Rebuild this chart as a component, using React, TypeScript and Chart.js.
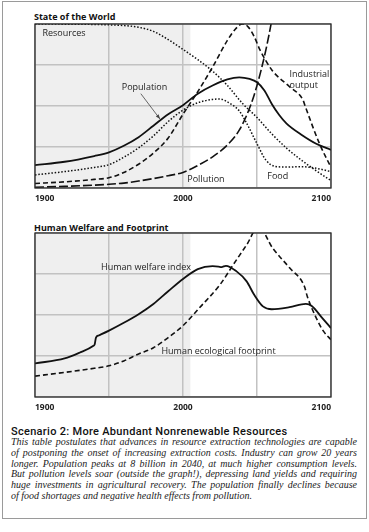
import React, { useEffect, useRef } from "react";
import { Chart, registerables } from "chart.js";
Chart.register(...registerables);

// ---------- Data ----------
const xTicks = [1900, 1950, 2000, 2050, 2100];
const tickLabels = ["1900", "", "2000", "", "2100"];

const resourcesYears = [1900, 1950, 1970, 1980, 1990, 2000, 2010, 2020, 2030, 2040, 2050, 2060, 2070, 2080, 2090, 2100];
const resourcesValues = [4.0, 3.98, 3.92, 3.82, 3.62, 3.38, 3.13, 2.85, 2.5, 2.07, 1.72, 1.32, 0.97, 0.68, 0.42, 0.18];

const populationYears = [1900, 1920, 1940, 1950, 1960, 1970, 1980, 1990, 2000, 2010, 2020, 2030, 2038, 2045, 2050, 2055, 2060, 2065, 2070, 2080, 2090, 2100];
const populationValues = [0.56, 0.64, 0.78, 0.87, 1.03, 1.24, 1.52, 1.8, 2.02, 2.3, 2.5, 2.65, 2.7, 2.66, 2.58, 2.38, 2.05, 1.78, 1.57, 1.3, 1.08, 0.93];

const foodYears = [1900, 1920, 1940, 1950, 1960, 1970, 1980, 1990, 2000, 2010, 2020, 2025, 2030, 2038, 2043, 2050, 2056, 2062, 2070, 2080, 2090, 2100];
const foodValues = [0.32, 0.4, 0.5, 0.57, 0.75, 0.98, 1.27, 1.62, 1.9, 2.08, 2.16, 2.17, 2.1, 1.88, 1.58, 1.08, 0.68, 0.53, 0.51, 0.52, 0.48, 0.4];

const industryYears = [1900, 1920, 1940, 1950, 1960, 1970, 1980, 1990, 2000, 2010, 2020, 2030, 2036, 2040, 2044, 2048, 2052, 2060, 2072, 2081, 2083, 2092, 2100];
const industryValues = [0.11, 0.15, 0.21, 0.25, 0.38, 0.58, 0.85, 1.22, 1.8, 2.35, 2.95, 3.6, 3.9, 4.0, 3.93, 3.7, 3.37, 2.88, 2.47, 2.15, 1.95, 1.1, 0.5];

const pollutionYears = [1900, 1920, 1940, 1950, 1960, 1970, 1980, 1990, 2000, 2010, 2020, 2030, 2038, 2045, 2050, 2056, 2060, 2065];
const pollutionValues = [0.02, 0.04, 0.07, 0.09, 0.12, 0.17, 0.23, 0.3, 0.38, 0.55, 0.76, 1.05, 1.41, 1.95, 2.5, 3.37, 4.1, 5.2];

const welfareYears = [1900, 1920, 1930, 1939.5, 1940.3, 1941.2, 1943, 1950, 1960, 1970, 1980, 1990, 2000, 2010, 2020, 2024, 2026, 2029, 2036, 2043, 2048, 2054, 2060, 2072, 2083, 2087, 2094, 2100];
const welfareValues = [0.82, 0.94, 1.08, 1.25, 1.28, 1.45, 1.5, 1.62, 1.81, 2.02, 2.27, 2.58, 2.88, 3.12, 3.19, 3.18, 3.17, 3.2, 3.07, 2.82, 2.5, 2.21, 2.14, 2.19, 2.27, 2.22, 1.93, 1.68];

const footprintYears = [1900, 1920, 1940, 1950, 1960, 1970, 1980, 1990, 2000, 2011, 2025, 2034, 2043, 2051, 2060.6, 2072, 2082, 2084, 2090, 2095, 2100];
const footprintValues = [0.51, 0.6, 0.7, 0.76, 0.88, 1.05, 1.2, 1.45, 1.74, 2.17, 2.74, 3.23, 3.71, 4.15, 3.63, 3.15, 2.7, 2.45, 1.93, 1.6, 1.4];

const historyEnd = 2005;

// annotation labels: [text, year, value, align]
const topLabels: [string, number, number, CanvasTextAlign][] = [
  ["Resources", 1905, 3.78, "left"],
  ["Population", 1974, 2.46, "center"],
  ["Industrial", 2072, 2.78, "left"],
  ["output", 2072, 2.51, "left"],
  ["Pollution", 2015.5, 0.2, "center"],
  ["Food", 2064, 0.29, "center"],
];
const topArrow = [1971.5, 2.3, 1984.5, 1.68];
const bottomLabels: [string, number, number, CanvasTextAlign][] = [
  ["Human welfare index", 1975, 3.17, "center"],
  ["Human ecological footprint", 2024, 1.1, "center"],
];

const captionTitle = "Scenario 2: More Abundant Nonrenewable Resources";
const captionLines = [
  "This table postulates that advances in resource extraction technologies are capable",
  "of postponing the onset of increasing extraction costs. Industry can grow 20 years",
  "longer. Population peaks at 8 billion in 2040, at much higher consumption levels.",
  "But pollution levels soar (outside the graph!), depressing land yields and requiring",
  "huge investments in agricultural recovery. The population finally declines because",
  "of food shortages and negative health effects from pollution.",
];

const SANS = "'Open Sans', 'DejaVu Sans', sans-serif";

function pts(xs: number[], ys: number[]) {
  return xs.map((x, i) => ({ x, y: ys[i] }));
}

function series(label: string, xs: number[], ys: number[], dash: number[], width: number) {
  return {
    label,
    data: pts(xs, ys),
    borderColor: "#111",
    borderWidth: width,
    borderDash: dash,
    pointRadius: 0,
    fill: false,
    cubicInterpolationMode: "monotone" as const,
  };
}

function makePlugin(labels: [string, number, number, CanvasTextAlign][], arrow: number[] | null) {
  return {
    id: "decor",
    beforeDraw(chart: any) {
      const { ctx, chartArea, scales } = chart;
      const x0 = scales.x.getPixelForValue(1900);
      const x1 = scales.x.getPixelForValue(historyEnd);
      ctx.save();
      ctx.fillStyle = "#efefef";
      ctx.fillRect(x0, chartArea.top, x1 - x0, chartArea.bottom - chartArea.top);
      ctx.restore();
    },
    afterDatasetsDraw(chart: any) {
      const { ctx, chartArea, scales } = chart;
      ctx.save();
      ctx.strokeStyle = "#2a2a2a";
      ctx.lineWidth = 1.3;
      ctx.strokeRect(chartArea.left, chartArea.top, chartArea.right - chartArea.left, chartArea.bottom - chartArea.top);
      ctx.fillStyle = "#222";
      ctx.font = "9px " + SANS;
      ctx.textBaseline = "middle";
      for (const [t, yr, v, al] of labels) {
        ctx.textAlign = al;
        ctx.fillText(t, scales.x.getPixelForValue(yr), scales.y.getPixelForValue(v));
      }
      if (arrow) {
        const ax = scales.x.getPixelForValue(arrow[0]);
        const ay = scales.y.getPixelForValue(arrow[1]);
        const bx = scales.x.getPixelForValue(arrow[2]);
        const by = scales.y.getPixelForValue(arrow[3]);
        ctx.strokeStyle = "#444";
        ctx.lineWidth = 0.8;
        ctx.beginPath();
        ctx.moveTo(ax, ay);
        ctx.lineTo(bx, by);
        ctx.stroke();
        const ang = Math.atan2(by - ay, bx - ax);
        const L = 5;
        ctx.fillStyle = "#444";
        ctx.beginPath();
        ctx.moveTo(bx, by);
        ctx.lineTo(bx - L * Math.cos(ang - 0.35), by - L * Math.sin(ang - 0.35));
        ctx.lineTo(bx - L * Math.cos(ang + 0.35), by - L * Math.sin(ang + 0.35));
        ctx.closePath();
        ctx.fill();
      }
      ctx.restore();
    },
  };
}

function baseOptions() {
  return {
    responsive: false,
    animation: false as const,
    layout: { padding: { left: 4, right: 4, top: 4, bottom: 0 } },
    plugins: { legend: { display: false }, tooltip: { enabled: false } },
    scales: {
      x: {
        type: "linear" as const,
        min: 1900,
        max: 2100,
        afterBuildTicks: (s: any) => {
          s.ticks = xTicks.map((v) => ({ value: v }));
        },
        afterFit: (s: any) => {
          s.height = 20;
        },
        ticks: {
          align: "inner" as const,
          maxRotation: 0,
          autoSkip: false,
          padding: 5,
          color: "#222",
          font: { family: SANS, size: 8.5, weight: "bold" as const },
          callback: (v: any) => tickLabels[xTicks.indexOf(Number(v))] ?? "",
        },
        grid: { color: "#c2c2c2", lineWidth: 1.5, drawTicks: false },
        border: { display: false },
      },
      y: {
        min: 0,
        max: 4,
        afterFit: (s: any) => {
          s.width = 0;
        },
        ticks: { display: false, stepSize: 1 },
        grid: { color: "#c2c2c2", lineWidth: 1.5, drawTicks: false },
        border: { display: false },
      },
    },
  };
}

function TopChart() {
  const ref = useRef<HTMLCanvasElement>(null);
  useEffect(() => {
    const chart = new Chart(ref.current!, {
      type: "line",
      data: {
        datasets: [
          series("Resources", resourcesYears, resourcesValues, [1.5, 1.8], 1.5),
          series("Food", foodYears, foodValues, [1.5, 1.8], 1.5),
          series("Industrial output", industryYears, industryValues, [5, 3], 1.6),
          series("Pollution", pollutionYears, pollutionValues, [9, 3], 1.6),
          series("Population", populationYears, populationValues, [], 1.8),
        ],
      },
      options: baseOptions() as any,
      plugins: [makePlugin(topLabels, topArrow)],
    });
    return () => chart.destroy();
  }, []);
  return <canvas ref={ref} width={306} height={188} style={{ position: "absolute", left: 30, top: 20 }} />;
}

function BottomChart() {
  const ref = useRef<HTMLCanvasElement>(null);
  useEffect(() => {
    const chart = new Chart(ref.current!, {
      type: "line",
      data: {
        datasets: [
          series("Human ecological footprint", footprintYears, footprintValues, [5, 3], 1.6),
          series("Human welfare index", welfareYears, welfareValues, [], 1.8),
        ],
      },
      options: baseOptions() as any,
      plugins: [makePlugin(bottomLabels, null)],
    });
    return () => chart.destroy();
  }, []);
  return <canvas ref={ref} width={306} height={188} style={{ position: "absolute", left: 30, top: 229 }} />;
}

export default function App() {
  const titleStyle: React.CSSProperties = {
    position: "absolute",
    left: 34,
    fontFamily: SANS,
    fontWeight: "bold",
    fontSize: 9,
    lineHeight: "12px",
    color: "#111",
    whiteSpace: "nowrap",
  };
  return (
    <div style={{ position: "absolute", left: 0, top: 0, width: 369, height: 532, background: "#fff", overflow: "hidden" }}>
      <div
        style={{
          position: "absolute",
          left: 2,
          top: 1,
          width: 365,
          height: 518,
          border: "1px solid #9a9a9a",
          boxSizing: "border-box",
        }}
      />
      <div style={{ ...titleStyle, top: 11 }}>State of the World</div>
      <TopChart />
      <div style={{ ...titleStyle, top: 222 }}>Human Welfare and Footprint</div>
      <BottomChart />
      <div
        style={{
          position: "absolute",
          left: 11,
          top: 425,
          fontFamily: "Roboto, 'DejaVu Sans', sans-serif",
          fontSize: 11,
          fontWeight: 500,
          letterSpacing: 0.3,
          lineHeight: "13px",
          color: "#111",
          whiteSpace: "nowrap",
        }}
      >
        {captionTitle}
      </div>
      <div style={{ position: "absolute", left: 11, top: 437, width: 346 }}>
        {captionLines.map((l, i) => (
          <div
            key={i}
            style={{
              fontFamily: "'Liberation Serif', 'DejaVu Serif', serif",
              fontStyle: "italic",
              fontSize: 10,
              lineHeight: "10.8px",
              color: "#222",
              whiteSpace: "nowrap",
              textAlign: "justify",
              textAlignLast: i === captionLines.length - 1 ? "left" : "justify",
            }}
          >
            {l}
          </div>
        ))}
      </div>
    </div>
  );
}
